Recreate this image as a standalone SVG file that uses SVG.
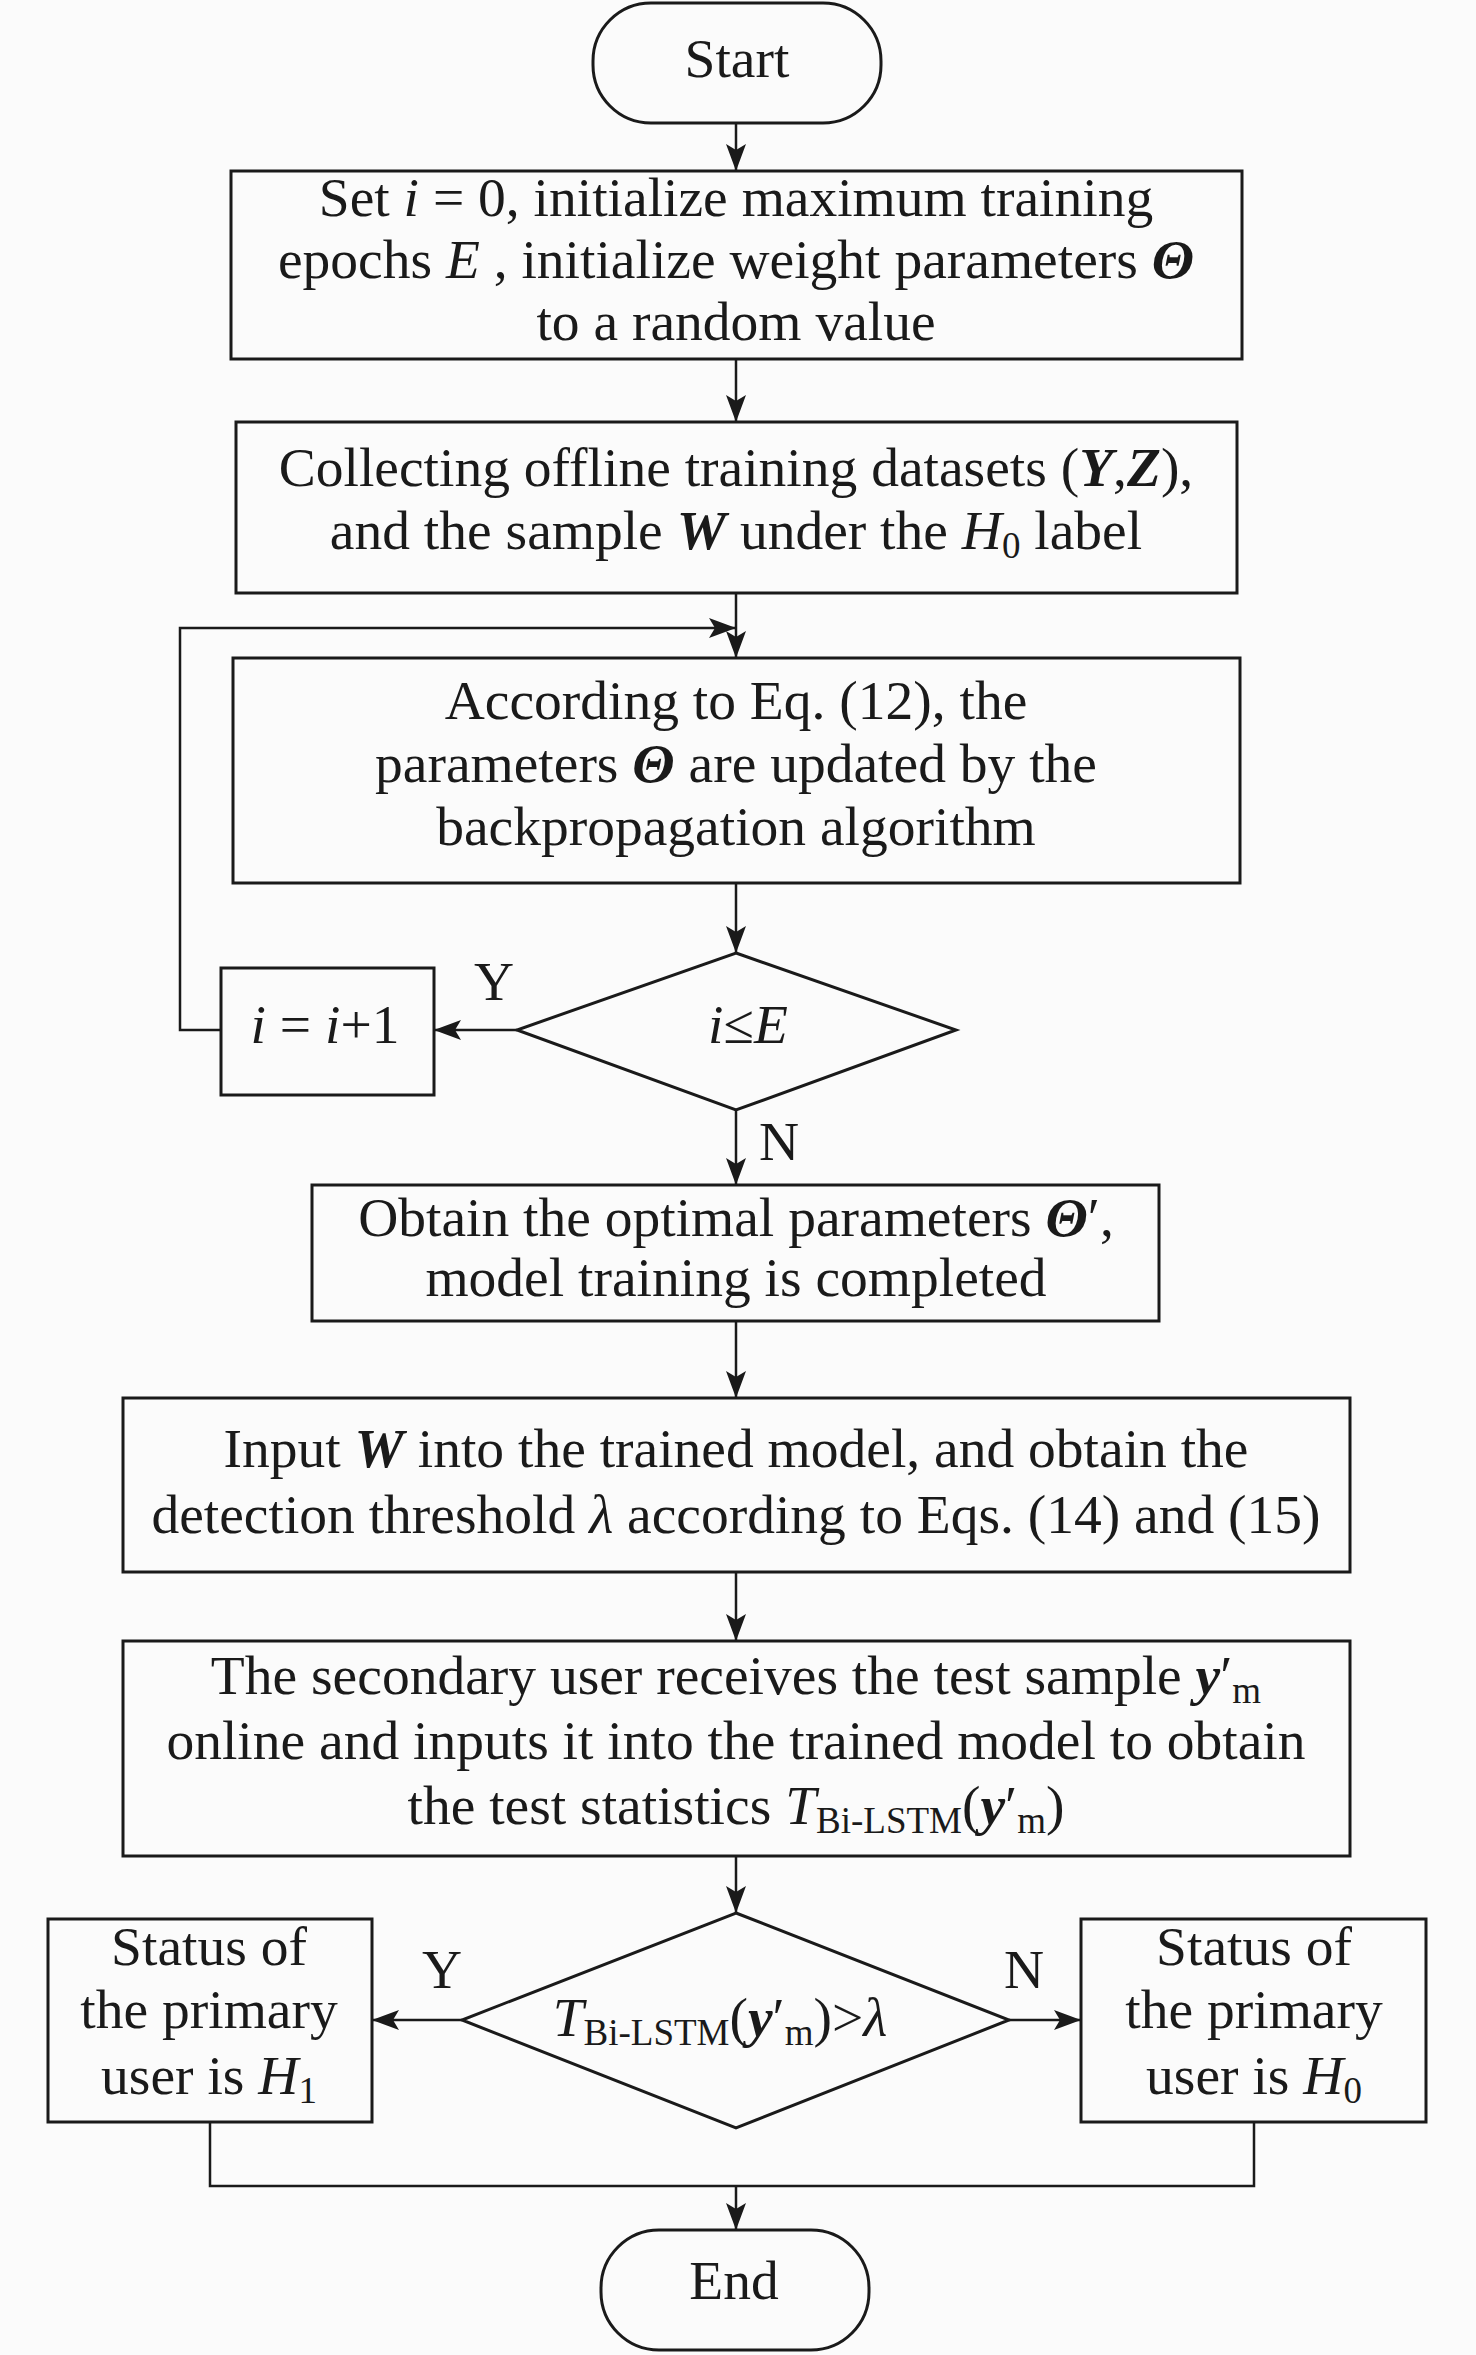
<svg xmlns="http://www.w3.org/2000/svg" width="1476" height="2355" viewBox="0 0 1476 2355">
<style>
text{font-family:"Liberation Serif","Times New Roman",serif;font-size:55.5px;fill:#1a1a1a;text-anchor:middle}
.n{fill:none;stroke:#1a1a1a;stroke-width:3}
.c{fill:none;stroke:#1a1a1a;stroke-width:2.5}
.i{font-style:italic}
.b{font-style:italic;font-weight:bold}
.s{font-size:37px}
</style>
<defs>
<marker id="a" markerUnits="userSpaceOnUse" markerWidth="28" markerHeight="20" refX="27" refY="10" orient="auto">
<path d="M0,0 L27,10 L0,20 L6,10 Z" fill="#1a1a1a"/>
</marker>
</defs>
<rect width="1476" height="2355" fill="#fbfbfb"/>
<g id="connectors">
<path class="c" d="M736,123 V171" marker-end="url(#a)"/>
<path class="c" d="M736,359 V422" marker-end="url(#a)"/>
<path class="c" d="M736,593 V658" marker-end="url(#a)"/>
<path class="c" d="M736,883 V953" marker-end="url(#a)"/>
<path class="c" d="M517,1030 H434" marker-end="url(#a)"/>
<path class="c" d="M221,1030 H180 V628 H736" marker-end="url(#a)"/>
<path class="c" d="M736,1110 V1185" marker-end="url(#a)"/>
<path class="c" d="M736,1321 V1398" marker-end="url(#a)"/>
<path class="c" d="M736,1572 V1641" marker-end="url(#a)"/>
<path class="c" d="M736,1856 V1913" marker-end="url(#a)"/>
<path class="c" d="M462,2020 H372" marker-end="url(#a)"/>
<path class="c" d="M1009,2020 H1081" marker-end="url(#a)"/>
<path class="c" d="M210,2122 V2186 H1254 V2122"/>
<path class="c" d="M736,2186 V2230" marker-end="url(#a)"/>
<text x="494" y="1000">Y</text>
<text x="779" y="1160">N</text>
<text x="442" y="1988">Y</text>
<text x="1024" y="1988">N</text>
</g>
<g id="start">
<rect class="n" x="593" y="3" width="288" height="120" rx="58" ry="58"/>
<text x="737" y="77">Start</text>
</g>
<g id="init">
<rect class="n" x="231" y="171" width="1011" height="188"/>
<text x="736" y="216">Set <tspan class="i">i</tspan> = 0, initialize maximum training</text>
<text x="736" y="278">epochs <tspan class="i">E</tspan> , initialize weight parameters <tspan class="b">Θ</tspan></text>
<text x="736" y="340">to a random value</text>
</g>
<g id="collect">
<rect class="n" x="236" y="422" width="1001" height="171"/>
<text x="736" y="486">Collecting offline training datasets (<tspan class="b">Y</tspan>,<tspan class="b">Z</tspan>),</text>
<text x="736" y="549">and the sample <tspan class="b">W</tspan> under the <tspan class="i">H</tspan><tspan class="s" dy="9">0</tspan><tspan dy="-9"> label</tspan></text>
</g>
<g id="update">
<rect class="n" x="233" y="658" width="1007" height="225"/>
<text x="736" y="719">According to Eq. (12), the</text>
<text x="736" y="782">parameters <tspan class="b">Θ</tspan> are updated by the</text>
<text x="736" y="845">backpropagation algorithm</text>
</g>
<g id="cond1">
<polygon class="n" points="736,953 956,1030 736,1110 517,1030"/>
<text x="748" y="1043"><tspan class="i">i</tspan>≤<tspan class="i">E</tspan></text>
</g>
<g id="incr">
<rect class="n" x="221" y="968" width="213" height="127"/>
<text x="325" y="1043"><tspan class="i">i</tspan> = <tspan class="i">i</tspan>+1</text>
</g>
<g id="optimal">
<rect class="n" x="312" y="1185" width="847" height="136"/>
<text x="736" y="1236">Obtain the optimal parameters <tspan class="b">Θ</tspan>′,</text>
<text x="736" y="1296">model training is completed</text>
</g>
<g id="threshold">
<rect class="n" x="123" y="1398" width="1227" height="174"/>
<text x="736" y="1467">Input <tspan class="b">W</tspan> into the trained model, and obtain the</text>
<text x="736" y="1533">detection threshold <tspan class="i">λ</tspan> according to Eqs. (14) and (15)</text>
</g>
<g id="test">
<rect class="n" x="123" y="1641" width="1227" height="215"/>
<text x="736" y="1694">The secondary user receives the test sample <tspan class="b">y</tspan>′<tspan class="s" dy="9">m</tspan></text>
<text x="736" y="1759">online and inputs it into the trained model to obtain</text>
<text x="736" y="1824">the test statistics <tspan class="i">T</tspan><tspan class="s" dy="9">Bi-LSTM</tspan><tspan dy="-9">(</tspan><tspan class="b">y</tspan>′<tspan class="s" dy="9">m</tspan><tspan dy="-9">)</tspan></text>
</g>
<g id="cond2">
<polygon class="n" points="736,1913 1009,2020 736,2128 462,2020"/>
<text x="720" y="2036"><tspan class="i">T</tspan><tspan class="s" dy="9">Bi-LSTM</tspan><tspan dy="-9">(</tspan><tspan class="b">y</tspan>′<tspan class="s" dy="9">m</tspan><tspan dy="-9">)&gt;</tspan><tspan class="i">λ</tspan></text>
</g>
<g id="h1">
<rect class="n" x="48" y="1919" width="324" height="203"/>
<text x="209" y="1965">Status of</text>
<text x="209" y="2028">the primary</text>
<text x="209" y="2094">user is <tspan class="i">H</tspan><tspan class="s" dy="9">1</tspan></text>
</g>
<g id="h0">
<rect class="n" x="1081" y="1919" width="345" height="203"/>
<text x="1254" y="1965">Status of</text>
<text x="1254" y="2028">the primary</text>
<text x="1254" y="2094">user is <tspan class="i">H</tspan><tspan class="s" dy="9">0</tspan></text>
</g>
<g id="end">
<rect class="n" x="601" y="2230" width="268" height="120" rx="58" ry="58"/>
<text x="734" y="2299">End</text>
</g>
</svg>
